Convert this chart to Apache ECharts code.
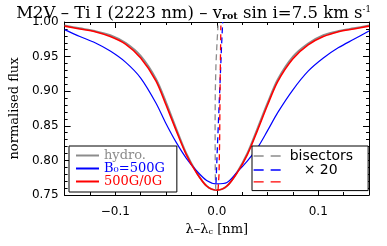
<!DOCTYPE html>
<html><head><meta charset="utf-8">
<script src="https://cdn.jsdelivr.net/npm/echarts@6/dist/echarts.min.js"></script>
<style>html,body{margin:0;padding:0;background:#fff}#c{width:387px;height:246px}</style>
</head><body><div id="c"></div>
<script>
// wavelength offsets (nm)
const lambdaGrid = [-0.15,-0.135,-0.12,-0.105,-0.09,-0.075,-0.06,-0.05,-0.04,-0.03,-0.02,-0.01,0,0.01,0.02,0.03,0.04,0.05,0.06,0.075,0.09,0.105,0.12,0.135,0.15];
// normalised flux profiles
const hydroFlux = [0.995,0.991,0.987,0.981,0.970,0.951,0.918,0.884,0.846,0.810,0.783,0.763,0.757,0.763,0.783,0.810,0.846,0.883,0.917,0.950,0.969,0.981,0.987,0.991,0.995];
const b500Flux  = [0.989,0.979,0.970,0.958,0.942,0.919,0.883,0.853,0.826,0.803,0.785,0.771,0.766,0.768,0.783,0.799,0.818,0.843,0.869,0.902,0.929,0.948,0.963,0.975,0.987];
const mixFlux   = [0.994,0.990,0.986,0.979,0.968,0.948,0.915,0.880,0.843,0.808,0.782,0.763,0.757,0.763,0.782,0.808,0.843,0.880,0.914,0.947,0.967,0.979,0.986,0.990,0.994];
// bisectors (x20): wavelength positions and flux levels
const bisHydroX = [-0.0010,-0.0015,-0.0017,-0.0015,-0.0008,0.0002,0.0012];
const bisHydroY = [0.757,0.780,0.850,0.900,0.940,0.970,0.995];
const bisB500X  = [-0.0008,0.0006,0.0020,0.0034,0.0048,0.0058];
const bisB500Y  = [0.767,0.820,0.870,0.920,0.970,1.000];
const bisMixX   = [0.0012,0.0022,0.0028,0.0032,0.0036,0.0040];
const bisMixY   = [0.757,0.780,0.830,0.900,0.950,0.995];
// tick labels
const xMajor = [-0.1, 0, 0.1];
const xTickLabels = ['\u22120.1', '0.0', '0.1'];
const yMajor = [0.75, 0.80, 0.85, 0.90, 0.95, 1.00];

const GRAY = '#8c8c8c', BLUE = '#0000ff', RED = '#ff0000';
const zip = (a, b) => a.map((v, i) => [v, b[i]]);
const serif = 'DejaVu Serif', sans = 'DejaVu Sans';

const axisX = (pos, major, labels) => ({
  type: 'value', position: pos, min: -0.15, max: 0.15,
  interval: major ? undefined : 0.025,
  axisLine: { show: !major, onZero: false, lineStyle: { color: '#000', width: 1 } },
  axisTick: major ? { inside: true, length: 6, customValues: xMajor, lineStyle: { color: '#000' } }
                  : { inside: true, length: 3, lineStyle: { color: '#000' } },
  axisLabel: labels ? { customValues: xMajor, margin: 11, color: '#000', fontFamily: sans, fontSize: 12,
      formatter: v => { const i = xMajor.findIndex(m => Math.abs(m - v) < 1e-9); return i >= 0 ? xTickLabels[i] : ''; } }
    : { show: false },
  splitLine: { show: false }
});
const axisY = (pos, major, labels) => ({
  type: 'value', position: pos, min: 0.75, max: 1.0,
  interval: major ? undefined : 0.01,
  axisLine: { show: !major, onZero: false, lineStyle: { color: '#000', width: 1 } },
  axisTick: major ? { inside: true, length: 6, customValues: yMajor, lineStyle: { color: '#000' } }
                  : { inside: true, length: 3, lineStyle: { color: '#000' } },
  axisLabel: labels ? { customValues: yMajor, margin: 6, color: '#000', fontFamily: sans, fontSize: 12,
      formatter: v => v.toFixed(2) } : { show: false },
  splitLine: { show: false }
});

const xs = [axisX('bottom', false, false), axisX('bottom', true, true), axisX('top', false, false), axisX('top', true, false)];
xs[1].name = '{n|\u03bb\u2013\u03bb}{s|c}{n| [nm]}';
xs[1].nameLocation = 'middle';
xs[1].nameGap = 28;
xs[1].nameTextStyle = { rich: {
  n: { fontFamily: serif, fontSize: 13, color: '#000' },
  s: { fontFamily: serif, fontSize: 8, color: '#000', verticalAlign: 'bottom' } } };
const ys = [axisY('left', false, false), axisY('left', true, true), axisY('right', false, false), axisY('right', true, false)];
ys[1].name = 'normalised flux';
ys[1].nameLocation = 'middle';
ys[1].nameGap = 39;
ys[1].nameTextStyle = { fontFamily: serif, fontSize: 13, color: '#000' };

const lineSeries = (name, data, color, width) => ({
  name, type: 'line', data, xAxisIndex: 0, yAxisIndex: 0, symbol: 'none',
  smooth: 0.3, lineStyle: { color, width }, itemStyle: { color }, z: 3
});
const bisSeries = (name, data, color) => ({
  name, type: 'line', data, xAxisIndex: 0, yAxisIndex: 0, symbol: 'none',
  lineStyle: { color, width: 1.3, type: [6, 4] }, itemStyle: { color }, z: 4
});

const chart = echarts.init(document.getElementById('c'), null, { renderer: 'canvas' });
chart.setOption({
  animation: false,
  backgroundColor: '#fff',
  title: {
    left: 'center', top: 0,
    text: '{m|M2V \u2013 Ti I (2223 nm) \u2013 v}{sb|rot}{m| sin i=7.5 km s}{sp|-1}',
    textStyle: { fontWeight: 'normal', rich: {
      m: { fontFamily: serif, fontSize: 16.5, fontWeight: 'normal', color: '#000' },
      sb: { fontFamily: serif, fontSize: 9.5, fontWeight: 'bold', color: '#000', verticalAlign: 'bottom' },
      sp: { fontFamily: serif, fontSize: 8.5, fontWeight: 'normal', color: '#000', verticalAlign: 'top' } } }
  },
  grid: { left: 58, right: 18, top: 22, bottom: 51, containLabel: false },
  xAxis: xs,
  yAxis: ys,
  legend: [
    {
      orient: 'vertical', left: 69, top: 146, selectedMode: false,
      itemWidth: 23, itemHeight: 12, itemGap: 0,
      itemStyle: { opacity: 0 },
      padding: [3, 12, 4, 6], borderColor: '#000', borderWidth: 1, backgroundColor: '#fff',
      textStyle: { fontFamily: serif, fontSize: 13, lineHeight: 12 },
      data: [
        { name: 'hydro.', textStyle: { color: GRAY } },
        { name: 'B\u2080=500G', textStyle: { color: BLUE } },
        { name: '500G/0G', textStyle: { color: RED } }
      ]
    },
    {
      orient: 'vertical', left: 252, top: 146, selectedMode: false,
      itemWidth: 27, itemHeight: 12, itemGap: 0,
      itemStyle: { opacity: 0 },
      lineStyle: { type: [10, 7], width: 1.3 },
      padding: [3, 15, 4, 1], borderColor: '#000', borderWidth: 1, backgroundColor: '#fff',
      textStyle: { fontFamily: sans, fontSize: 14, lineHeight: 12, color: '#000',
        rich: { t: { fontFamily: sans, fontSize: 14, color: '#000', padding: [0, 0, 0, 4] },
                x: { fontFamily: sans, fontSize: 14, color: '#000', padding: [0, 0, 0, 18] } } },
      formatter: n => n === 'bisector hydro' ? '{t|bisectors}' : (n === 'bisector B0' ? '{x|\u00d7 20}' : ''),
      data: ['bisector hydro', 'bisector B0', 'bisector mix']
    }
  ],
  series: [
    lineSeries('hydro.', zip(lambdaGrid, hydroFlux), GRAY, 1.8),
    lineSeries('B\u2080=500G', zip(lambdaGrid, b500Flux), BLUE, 1.2),
    lineSeries('500G/0G', zip(lambdaGrid, mixFlux), RED, 1.6),
    bisSeries('bisector hydro', zip(bisHydroX, bisHydroY), GRAY),
    bisSeries('bisector B0', zip(bisB500X, bisB500Y), BLUE),
    bisSeries('bisector mix', zip(bisMixX, bisMixY), RED)
  ]
});
</script>
</body></html>
